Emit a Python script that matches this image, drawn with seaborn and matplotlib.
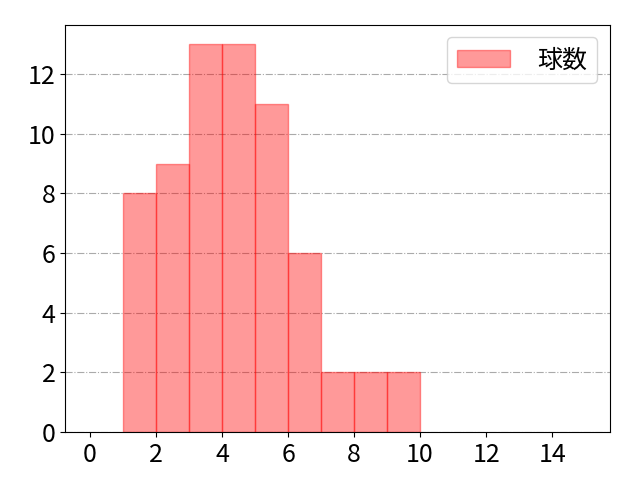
import numpy as np
import matplotlib
matplotlib.use("Agg")
import matplotlib.pyplot as plt
import seaborn as sns

plt.rcParams['font.family'] = ['Noto Sans CJK JP', 'DejaVu Sans']

# histogram bins (1..10) and counts per bin; x axis runs over 0..15
bin_edges = list(range(1, 11))
counts = [8, 9, 13, 13, 11, 6, 2, 2, 2]
label = '球数'

centers = [e + 0.5 for e in bin_edges[:-1]]

fig, ax = plt.subplots(figsize=(6.4, 4.8), dpi=100)
fig.subplots_adjust(left=0.102, right=0.953, top=0.948, bottom=0.1)
sns.histplot(x=centers, weights=counts, bins=bin_edges, ax=ax,
             facecolor=(1, 0, 0, 0.4), edgecolor=(1, 0, 0, 0.4),
             linewidth=1.0, label=label)

ax.set_xlim(-0.75, 15.75)
ax.set_ylim(0, 13.65)
ax.grid(axis='y', linestyle='-.', color='#aaaaaa', linewidth=0.8)
ax.set_axisbelow(True)
ax.set_xlabel('')
ax.set_ylabel('')
ax.set_xticks(range(0, 16, 2))
ax.tick_params(labelsize=18)
ax.legend(fontsize=18, handlelength=2.1, handletextpad=1.1, loc='upper right')

fig.savefig('out.png', dpi=100)
